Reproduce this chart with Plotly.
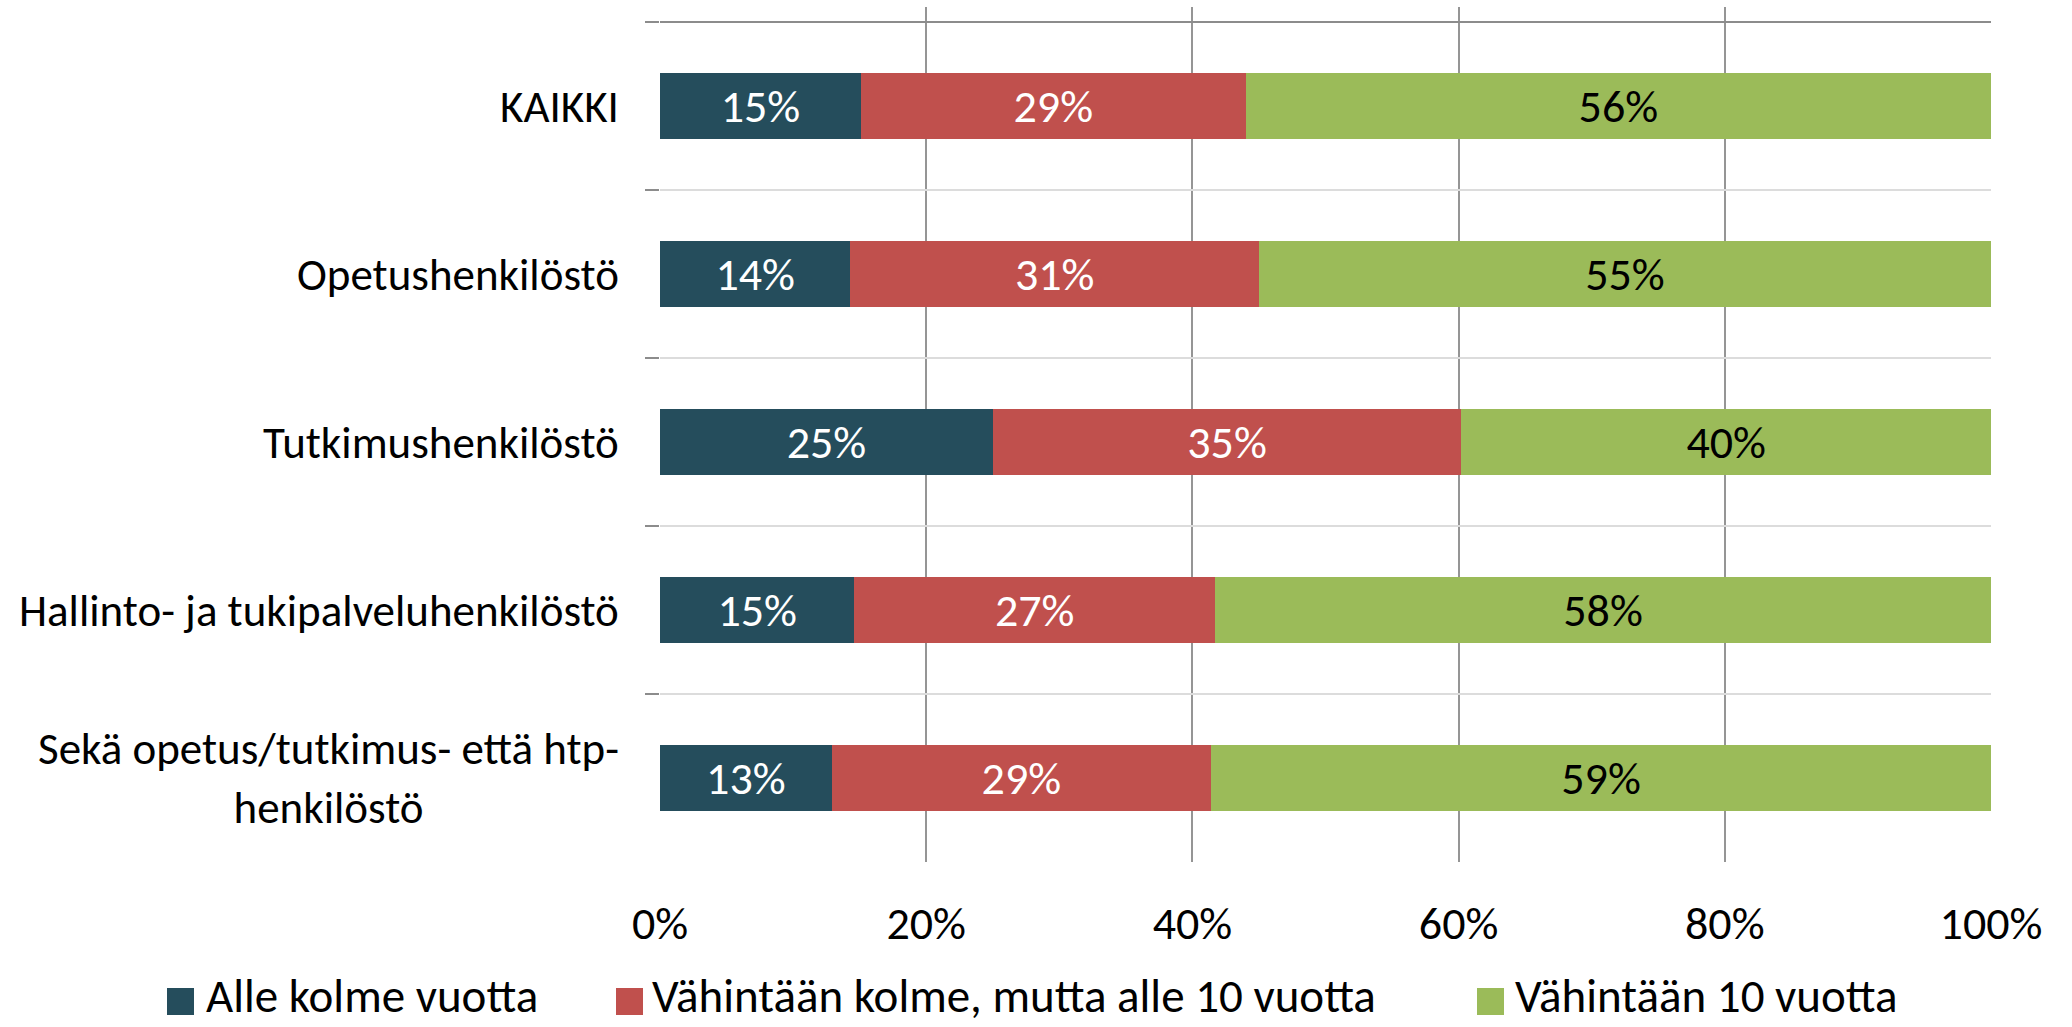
import plotly.graph_objects as go

categories = ["KAIKKI", "Opetushenkilöstö", "Tutkimushenkilöstö",
              "Hallinto- ja tukipalveluhenkilöstö",
              "Sekä opetus/tutkimus- että htp-<br>henkilöstö"]
series_names = ["Alle kolme vuotta",
                "Vähintään kolme, mutta alle 10 vuotta",
                "Vähintään 10 vuotta"]
alle3 = [15.1, 14.3, 25.0, 14.6, 12.9]
kolme_10 = [28.9, 30.7, 35.2, 27.1, 28.5]
yli10 = [56.0, 55.0, 39.8, 58.3, 58.6]
x_ticks = [0, 20, 40, 60, 80, 100]
x_tick_labels = ["0%", "20%", "40%", "60%", "80%", "100%"]

colors = ["#254D5C", "#C0504D", "#9BBB59"]
text_colors = ["white", "white", "black"]
FONT = "Calibri, Carlito, Lato, sans-serif"

W, H = 2072, 1027
L, R, T, B = 660, 1991, 7, 862
pw, ph = R - L, B - T

def px(X):
    return (X - L) / pw

def py(Y):
    return (B - Y) / ph

fig = go.Figure()
for name, vals, c, tc in zip(series_names, [alle3, kolme_10, yli10], colors, text_colors):
    fig.add_trace(go.Bar(
        x=vals, y=categories, orientation="h", name=name,
        marker=dict(color=c, line=dict(width=0)),
        texttemplate="%{x:.0f}%", textposition="inside",
        insidetextanchor="middle", constraintext="none",
        textfont=dict(family=FONT, size=46, color=tc),
        showlegend=False, hoverinfo="skip",
    ))

shapes = []
annotations = []
# top dark boundary line
shapes.append(dict(type="line", xref="paper", yref="y", x0=0, x1=1, y0=-0.5, y1=-0.5,
                   line=dict(color="#8C8C8C", width=2), layer="above"))
# category labels
for cat in categories:
    annotations.append(dict(xref="paper", yref="y", x=0, y=cat, xanchor="right",
                            yanchor="middle", xshift=-39, text=cat, showarrow=False,
                            align="center",
                            font=dict(family=FONT, size=45, color="black")))
# manual legend
leg_sq = [167, 616, 1477]
leg_text_x = [205, 651, 1514]
for name, c, x0, xt in zip(series_names, colors, leg_sq, leg_text_x):
    shapes.append(dict(type="rect", xref="paper", yref="paper",
                       x0=px(x0), x1=px(x0 + 27), y0=py(1015), y1=py(988),
                       fillcolor=c, line=dict(width=0)))
    annotations.append(dict(xref="paper", yref="paper", x=px(xt), y=py(1026),
                            xanchor="left", yanchor="bottom", text=name,
                            showarrow=False, borderpad=0,
                            font=dict(family=FONT, size=47, color="black")))

fig.update_layout(
    barmode="stack", bargap=0.61,
    width=W, height=H,
    margin=dict(l=L, r=W - R, t=T, b=H - B, pad=0),
    paper_bgcolor="white", plot_bgcolor="white",
    showlegend=False,
    shapes=shapes, annotations=annotations,
    xaxis=dict(range=[0, 100], tickmode="array", tickvals=x_ticks, ticktext=x_tick_labels,
               showgrid=True, gridcolor="#959595", gridwidth=2,
               zeroline=False, showline=False, ticks="",
               ticklabelstandoff=30,
               tickfont=dict(family=FONT, size=46, color="black"),
               fixedrange=True),
    yaxis=dict(type="category", categoryorder="array", categoryarray=categories,
               range=[4.5, -0.5 - 15 / 168], tickson="boundaries",
               showgrid=True, gridcolor="#DCDCDC", gridwidth=2,
               ticks="outside", ticklen=14, tickcolor="#8C8C8C", tickwidth=2,
               showticklabels=False, zeroline=False, showline=False,
               fixedrange=True),
)

fig.write_html("out.html", config={"displayModeBar": False},
               post_script="document.body.style.margin='0';document.body.style.overflow='hidden';")
